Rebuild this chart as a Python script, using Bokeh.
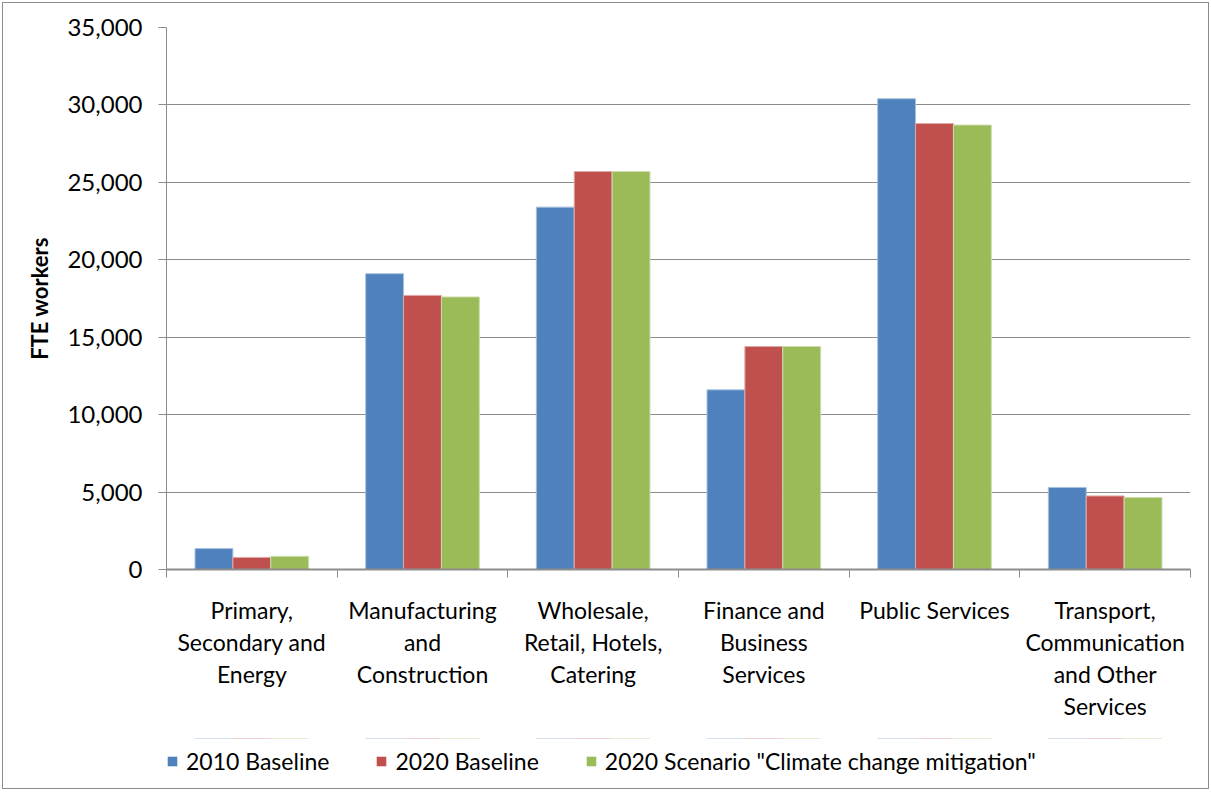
import numpy as np
from bokeh.plotting import figure
from bokeh.layouts import column
from bokeh.models import (Range1d, LinearAxis, FixedTicker,
                          Legend, LegendItem, NumeralTickFormatter, ColumnDataSource)
from bokeh.transform import dodge
from bokeh.embed import file_html
from bokeh.resources import INLINE

categories = [
    "Primary,\nSecondary and\nEnergy",
    "Manufacturing\nand\nConstruction",
    "Wholesale,\nRetail, Hotels,\nCatering",
    "Finance and\nBusiness\nServices",
    "Public Services",
    "Transport,\nCommunication\nand Other\nServices",
]
baseline_2010 = [1350, 19100, 23400, 11600, 30400, 5300]
baseline_2020 = [780, 17700, 25700, 14400, 28800, 4750]
scenario_2020 = [850, 17600, 25700, 14400, 28700, 4650]
series_names = ["2010 Baseline", "2020 Baseline", "2020 Scenario \"Climate change mitigation\""]
y_ticks = [0, 5000, 10000, 15000, 20000, 25000, 30000, 35000]

FONT = "Lato"
colors = ["#4F81BD", "#C0504D", "#9BBB59"]
edges = ["#A7C0DE", "#DFA8A6", "#CDDDAC"]
cols = ["b2010", "b2020", "s2020"]

n = len(categories)
centers = (np.arange(n) + 0.5).tolist()
src = ColumnDataSource(dict(pos=centers, b2010=baseline_2010, b2020=baseline_2020, s2020=scenario_2020))

p = figure(x_range=Range1d(0, n), y_range=Range1d(0, 35000),
           width=1205, height=735, output_backend="svg", toolbar_location=None,
           x_axis_location=None, y_axis_location="left",
           min_border_left=163, min_border_right=18, min_border_top=24, min_border_bottom=169)

for i, (col, c, e) in enumerate(zip(cols, colors, edges)):
    p.vbar(x=dodge("pos", (i - 1) * 0.222), top=col, width=0.222,
           source=src, fill_color=c, line_color=e, line_width=1)

p.outline_line_color = None
p.xgrid.visible = False
p.ygrid.grid_line_color = "#8C8C8C"
p.ygrid.grid_line_width = 1

ya = p.yaxis[0]
ya.ticker = FixedTicker(ticks=y_ticks)
ya.formatter = NumeralTickFormatter(format="0,0")
ya.axis_line_color = "#8C8C8C"
ya.major_tick_line_color = "#8C8C8C"
ya.major_tick_out = 8
ya.major_tick_in = 0
ya.minor_tick_line_color = None
ya.major_label_text_font = FONT
ya.major_label_text_font_size = "24px"
ya.major_label_text_color = "#000000"
ya.major_label_standoff = 16
ya.axis_label = "FTE workers"
ya.axis_label_text_font = FONT
ya.axis_label_text_font_size = "22px"
ya.axis_label_text_font_style = "bold"
ya.axis_label_text_color = "#000000"
ya.axis_label_standoff = 11

bx = LinearAxis(ticker=FixedTicker(ticks=list(range(n + 1))),
                major_label_overrides={i: "" for i in range(n + 1)},
                major_label_text_font_size="1px", major_label_standoff=0,
                axis_line_color="#8C8C8C", axis_line_width=2,
                major_tick_line_color="#8C8C8C", major_tick_out=8, major_tick_in=0,
                minor_tick_line_color=None)
p.add_layout(bx, "below")

cx = LinearAxis(ticker=FixedTicker(ticks=centers),
                major_label_overrides=dict(zip(centers, categories)),
                axis_line_color=None, major_tick_line_color=None, minor_tick_line_color=None,
                major_label_text_font=FONT, major_label_text_font_size="23px",
                major_label_text_color="#000000", major_label_standoff=12,
                major_label_text_line_height=1.15)
p.add_layout(cx, "below")

# legend strip below the chart (its bars lie outside its visible y range)
pl = figure(x_range=Range1d(0, n), y_range=Range1d(-2, -1),
            width=1205, height=50, output_backend="svg", toolbar_location=None,
            x_axis_location=None, y_axis_location=None,
            min_border_left=0, min_border_right=0, min_border_top=0, min_border_bottom=0)
pl.outline_line_color = None
pl.grid.visible = False
leg_renderers = [pl.vbar(x=dodge("pos", (i - 1) * 0.222), top=col, width=0.222, source=src,
                         fill_color=c, line_color=None)
                 for i, (col, c) in enumerate(zip(cols, colors))]
legend = Legend(items=[LegendItem(label=s, renderers=[r]) for s, r in zip(series_names, leg_renderers)],
                orientation="horizontal", location=(0, 13),
                glyph_width=12, glyph_height=12, label_standoff=8, spacing=46, padding=0, margin=0,
                label_text_font=FONT, label_text_font_size="23px", label_text_color="#000000",
                border_line_color=None, background_fill_alpha=0)
pl.add_layout(legend, "center")

layout = column(p, pl, spacing=0)
layout.styles = {"border": "1px solid #8C8C8C", "margin-left": "2px", "margin-top": "2px"}

open("out.html", "w").write(file_html(layout, INLINE))
